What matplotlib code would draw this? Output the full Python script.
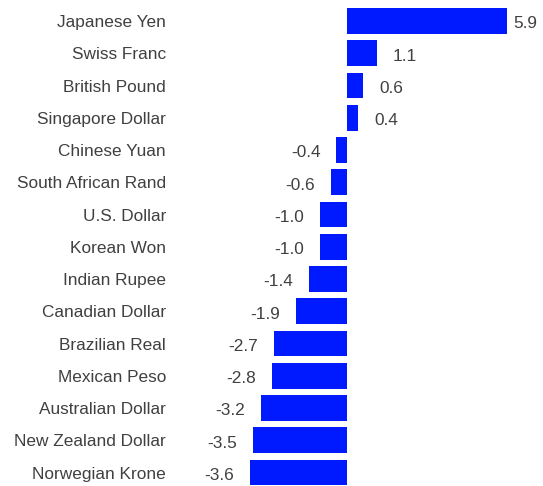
import matplotlib
matplotlib.use("Agg")
import matplotlib.pyplot as plt

currencies = [
    "Japanese Yen", "Swiss Franc", "British Pound", "Singapore Dollar",
    "Chinese Yuan", "South African Rand", "U.S. Dollar", "Korean Won",
    "Indian Rupee", "Canadian Dollar", "Brazilian Real", "Mexican Peso",
    "Australian Dollar", "New Zealand Dollar", "Norwegian Krone",
]
changes = [5.9, 1.1, 0.6, 0.4, -0.4, -0.6, -1.0, -1.0, -1.4, -1.9,
           -2.7, -2.8, -3.2, -3.5, -3.6]

BAR_COLOR = "#001AFF"
TEXT_COLOR = "#404040"
FONT = ["Liberation Sans", "DejaVu Sans"]
FONT_SIZE = 12.4

W, H, DPI = 543, 486, 100
fig = plt.figure(figsize=(W / DPI, H / DPI), dpi=DPI)

# axes placed in pixel terms: zero line at x≈347, ~27 px per unit
px_per_unit = 27.0
x0_px = 347.3
xmin, xmax = -4.0, 6.5
left_px = x0_px + xmin * px_per_unit
right_px = x0_px + xmax * px_per_unit
row_px = 32.25
top_px = 21.0 - row_px / 2
bottom_px = top_px + row_px * len(currencies)
ax = fig.add_axes([left_px / W, 1 - bottom_px / H,
                   (right_px - left_px) / W, (bottom_px - top_px) / H])

ypos = list(range(len(currencies)))
ax.barh(ypos, changes, height=0.8, color=BAR_COLOR, linewidth=0)
ax.set_xlim(xmin, xmax)
ax.set_ylim(len(currencies) - 0.5, -0.5)

ax.set_yticks(ypos)
ax.set_yticklabels(currencies, fontsize=FONT_SIZE, color=TEXT_COLOR, family=FONT)
for lbl in ax.get_yticklabels():
    lbl.set_verticalalignment("center_baseline")
label_gap_px = left_px - 166
ax.tick_params(axis="y", length=0, pad=label_gap_px * 72 / DPI)
ax.set_xticks([])
for s in ax.spines.values():
    s.set_visible(False)

offset = 16 / px_per_unit
max_label_x = 6.15
for y, v in zip(ypos, changes):
    if v >= 0:
        x = min(v + offset, max_label_x)
        ha = "left"
    else:
        x = v - offset
        ha = "right"
    ax.text(x, y + 0.04, f"{v:.1f}", ha=ha, va="center_baseline",
            fontsize=FONT_SIZE, color=TEXT_COLOR, family=FONT, clip_on=False)

fig.savefig("out.png", dpi=DPI)
